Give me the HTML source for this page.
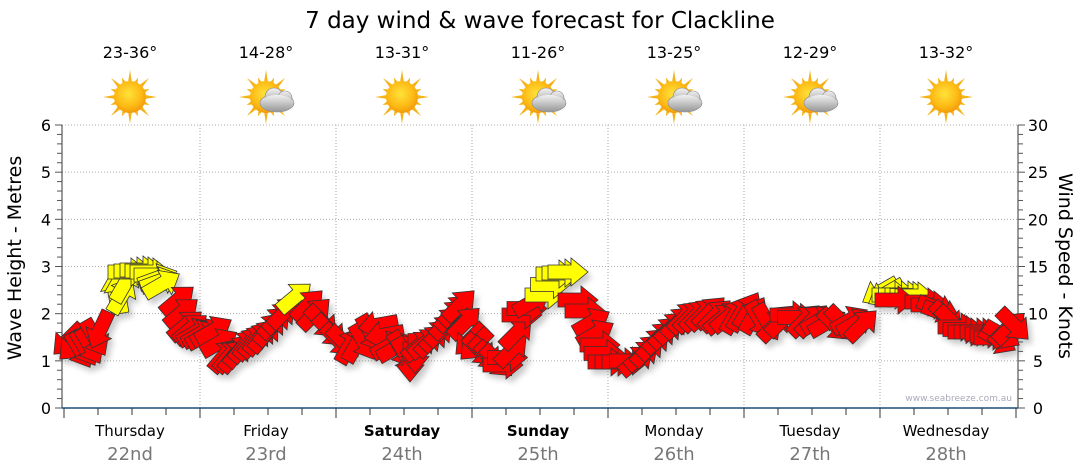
<!DOCTYPE html>
<html><head><meta charset="utf-8"><style>
body{margin:0;background:#fff;}
svg{display:block;font-family:"DejaVu Sans","Liberation Sans",sans-serif;}
</style></head><body>
<svg id="s" width="1080" height="475" viewBox="0 0 1080 475" xmlns="http://www.w3.org/2000/svg">
<defs>
<radialGradient id="sun" cx="45%" cy="40%" r="60%"><stop offset="0" stop-color="#ffe23a"/><stop offset="0.7" stop-color="#fdb813"/><stop offset="1" stop-color="#f29a0c"/></radialGradient>
<linearGradient id="cl" x1="0" y1="0" x2="0" y2="1"><stop offset="0" stop-color="#f2f2f2"/><stop offset="1" stop-color="#9a9a9a"/></linearGradient>
<filter id="sh" x="-50%" y="-50%" width="200%" height="200%"><feGaussianBlur stdDeviation="3"/></filter>
</defs>
<text x="540" y="28" font-size="23" text-anchor="middle" fill="#000">7 day wind &amp; wave forecast for Clackline</text>
<g id="grid"></g>
<g id="icons"></g>
<g id="arrows"></g>
<text x="1012" y="401" font-size="9" text-anchor="end" fill="#aab">www.seabreeze.com.au</text>
<text transform="translate(21,258) rotate(-90)" font-size="19" text-anchor="middle">Wave Height - Metres</text>
<text transform="translate(1059,266) rotate(90)" font-size="19" text-anchor="middle">Wind Speed - Knots</text>
</svg>
<script>
var NS="http://www.w3.org/2000/svg";
function el(p,t,a,txt){var e=document.createElementNS(NS,t);for(var k in a)e.setAttribute(k,a[k]);if(txt!=null)e.textContent=txt;p.appendChild(e);return e;}
var g=document.getElementById('grid');
var L=62,R=1018,B=408,T=125,u=(B-T)/6;
for(var k=1;k<=6;k++){var y=B-u*k;el(g,'line',{x1:L,x2:R,y1:y,y2:y,stroke:'#aaa','stroke-dasharray':'1,2'});}
var days=['Thursday','Friday','Saturday','Sunday','Monday','Tuesday','Wednesday'];
var dates=['22nd','23rd','24th','25th','26th','27th','28th'];
var temps=['23-36°','14-28°','13-31°','11-26°','13-25°','12-29°','13-32°'];
var cloud=[0,1,0,1,1,1,0];
for(var i=1;i<7;i++){var x=64+136*i;el(g,'line',{x1:x,x2:x,y1:T,y2:B,stroke:'#aaa','stroke-dasharray':'1,2'});}
el(g,'line',{x1:L,x2:L,y1:T,y2:B,stroke:'#333'});
el(g,'line',{x1:R,x2:R,y1:T,y2:B,stroke:'#333'});
for(var k=0;k<=30;k++){var y=B-u*k/5;var maj=k%5==0;
 el(g,'line',{x1:maj?55:57,x2:L,y1:y,y2:y,stroke:'#555'});
 el(g,'line',{x1:R,x2:maj?1025:1023,y1:y,y2:y,stroke:'#555'});
 if(maj){el(g,'text',{x:46,y:y+6,'font-size':16,'text-anchor':'middle'},k/5);
  el(g,'text',{x:1038,y:y+6,'font-size':16,'text-anchor':'middle'},k);}}
el(g,'line',{x1:L,x2:R,y1:B,y2:B,stroke:'#1a4f7a','stroke-width':1.5});
for(var i=0;i<=28;i++){var x=64+34*i;el(g,'line',{x1:x,x2:x,y1:B,y2:i%4==0?418:415,stroke:'#333'});}
var ic=document.getElementById('icons');
for(var i=0;i<7;i++){var cx=130+136*i;
 el(g,'text',{x:cx,y:436,'font-size':15,'text-anchor':'middle','font-weight':(i==2||i==3)?'bold':'normal'},days[i]);
 el(g,'text',{x:cx,y:460,'font-size':18,'text-anchor':'middle',fill:'#777'},dates[i]);
 el(ic,'text',{x:cx,y:58,'font-size':16,'text-anchor':'middle'},temps[i]);
 var sx=cx,sy=97;
 var gg=el(ic,'g',{});
 for(var r=0;r<16;r++){var a=r*Math.PI/8,l=(r%2?21:27);
  var p=[[sx+Math.cos(a)*l,sy+Math.sin(a)*l],[sx+Math.cos(a+0.13)*15,sy+Math.sin(a+0.13)*15],[sx+Math.cos(a-0.13)*15,sy+Math.sin(a-0.13)*15]];
  el(gg,'polygon',{points:p.map(function(q){return q.join(',')}).join(' '),fill:'#f5b41a'});}
 el(gg,'circle',{cx:sx,cy:sy,r:16,fill:'url(#sun)'});
 if(cloud[i]){var c=el(ic,'g',{stroke:'#888','stroke-width':0.6});
  el(c,'ellipse',{cx:sx+11,cy:sy+6,rx:17,ry:9,fill:'url(#cl)'});
  el(c,'circle',{cx:sx+8,cy:sy,r:9,fill:'url(#cl)'});
  el(c,'circle',{cx:sx+19,cy:sy+1,r:7,fill:'url(#cl)'});
  el(ic,'ellipse',{cx:sx+11,cy:sy+6,rx:16,ry:8,fill:'url(#cl)'});}
}
var A0=[
[68,340,135,'r'],[80,350,60,'r'],[90,346,60,'r'],[100,330,115,'r'],
[115,292,-100,'y'],[122,295,-60,'y'],[128,272,0,'y'],[140,270,0,'y'],[150,272,0,'y'],[158,278,-20,'y'],[162,284,-30,'y'],
[178,300,-40,'r'],[186,325,-40,'r'],[196,332,-30,'r'],[205,335,-30,'r'],[214,330,-30,'r'],
[225,355,-50,'r'],[235,355,-50,'r'],[245,345,-50,'r'],[255,340,-50,'r'],[265,335,-50,'r'],[275,322,-45,'r'],[285,312,-45,'r'],[295,297,-40,'y'],[308,305,-45,'r'],
[322,322,45,'r'],[338,340,45,'r'],[350,345,-60,'r'],[364,342,60,'r'],[378,325,170,'r'],[390,345,-30,'r'],[402,350,60,'r'],[410,362,90,'r'],[420,345,-40,'r'],[432,340,-45,'r'],[442,330,-45,'r'],[452,315,-45,'r'],[460,305,-45,'r'],
[470,340,135,'r'],[480,350,45,'r'],[492,358,45,'r'],[503,365,0,'r'],[512,350,-45,'r'],[522,315,0,'r'],[532,302,-30,'r'],[545,295,0,'y'],[556,274,0,'y'],[568,272,0,'y'],
[578,300,0,'r'],[592,322,-30,'r'],[600,345,0,'r'],[608,362,0,'r'],[622,362,0,'r'],[637,360,-40,'r'],[648,350,-45,'r'],[660,337,-45,'r'],[672,327,-45,'r'],[685,317,-45,'r'],[697,315,-45,'r'],[710,312,-45,'r'],[722,318,-40,'r'],
[735,315,-60,'r'],[748,310,-60,'r'],[760,320,60,'r'],[775,325,-45,'r'],[790,315,0,'r'],[805,320,-45,'r'],[820,320,-30,'r'],[835,325,45,'r'],[850,320,-30,'r'],[862,325,-45,'r'],
[880,292,150,'y'],[892,295,0,'y'],[905,295,0,'y'],[915,296,0,'y'],
[895,300,0,'r'],[925,302,0,'r'],[937,308,20,'r'],[947,318,45,'r'],[958,327,0,'r'],[968,332,0,'r'],[980,332,0,'r'],[990,336,0,'r'],[998,340,30,'r'],[1006,330,-45,'r'],[1014,325,45,'r']];
var A=[];
for(var i=0;i<A0.length;i++){A.push(A0[i]);var n=A0[i+1];
 if(n&&n[3]==A0[i][3]&&Math.abs(n[0]-A0[i][0])<18){A.push([(A0[i][0]+n[0])/2,(A0[i][1]+n[1])/2,A0[i][2],A0[i][3]]);}}
var ag=document.getElementById('arrows');
var pts="-20,-7 3,-7 3,-14 20,0 3,14 3,7 -20,7";
var sg=el(ag,'g',{filter:'url(#sh)',opacity:0.35});
A.forEach(function(a){el(sg,'polygon',{points:pts,fill:'#666',transform:'translate('+(a[0]+4)+','+(a[1]+5)+') rotate('+a[2]+')'});});
A.forEach(function(a){el(ag,'polygon',{points:pts,fill:a[3]=='r'?'#ff0000':'#ffff00',stroke:'#333','stroke-width':0.8,'stroke-linejoin':'miter',transform:'translate('+a[0]+','+a[1]+') rotate('+a[2]+')'});});
</script>
</body></html>
